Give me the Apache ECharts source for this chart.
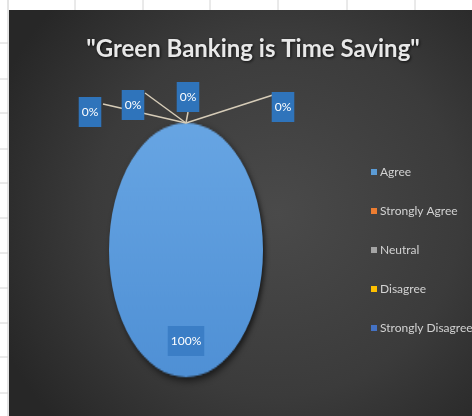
<!DOCTYPE html>
<html>
<head>
<meta charset="utf-8">
<script src="https://cdn.jsdelivr.net/npm/echarts@6/dist/echarts.min.js"></script>
<style>
  html, body { margin: 0; padding: 0; background: #fff; overflow: hidden; }
  #page { position: relative; width: 472px; height: 416px; }
  #back, #front { position: absolute; left: 0; top: 0; width: 472px; height: 416px; }
  /* the pie is drawn round and stretched vertically into an oval */
  #oval { position: absolute; left: 96px; top: 160px; width: 180px; height: 180px;
          transform: scaleY(1.65); transform-origin: 50% 50%; }
</style>
</head>
<body>
<div id="page">
  <div id="back"></div>
  <div id="oval"></div>
  <div id="front"></div>
</div>
<script>
// ---- data ----
const chartTitle = '"Green Banking is Time Saving"';
const categories = ['Agree', 'Strongly Agree', 'Neutral', 'Disagree', 'Strongly Disagree'];
const shares = [100, 0, 0, 0, 0];
const palette = ['#5b9bd5', '#ed7d31', '#a5a5a5', '#ffc000', '#4472c4'];

const face = "Lato, 'Liberation Sans', sans-serif";

// ---- background layer: worksheet edge, dark chart panel, title ----
const back = echarts.init(document.getElementById('back'), null, { renderer: 'canvas' });
const sheetLines = [];
[75, 143, 210, 278, 347, 415].forEach(x => sheetLines.push({
  type: 'line', shape: { x1: x, y1: 0, x2: x, y2: 10 }, style: { stroke: '#d4d4d4', lineWidth: 1 }
}));
[43, 79, 113, 149, 183, 218, 253, 288, 323, 357, 393].forEach(y => sheetLines.push({
  type: 'line', shape: { x1: 0, y1: y, x2: 8, y2: y }, style: { stroke: '#d4d4d4', lineWidth: 1 }
}));
back.setOption({
  backgroundColor: '#ffffff',
  graphic: [
    { type: 'rect', shape: { x: 0, y: 0, width: 472, height: 416 }, style: { fill: '#ffffff' } },
    ...sheetLines,
    { type: 'line', shape: { x1: 8, y1: 0, x2: 8, y2: 416 }, style: { stroke: '#c8c8c8', lineWidth: 1 } },
    {
      type: 'rect', shape: { x: 9, y: 10, width: 463, height: 406 },
      style: {
        fill: {
          type: 'radial', x: 0.58, y: 0.5, r: 0.75,
          colorStops: [
            { offset: 0, color: '#4a4a4a' },
            { offset: 0.6, color: '#3b3b3b' },
            { offset: 1, color: '#272727' }
          ]
        }
      }
    }
  ],
  title: {
    text: chartTitle,
    left: 248, top: 32, textAlign: 'center',
    textStyle: {
      color: '#e8e8e8', fontSize: 24, fontWeight: 'bold', fontFamily: face,
      textShadowColor: 'rgba(0,0,0,0.75)', textShadowBlur: 3, textShadowOffsetX: 1, textShadowOffsetY: 1
    }
  }
});

// ---- oval pie ----
const oval = echarts.init(document.getElementById('oval'), null, { renderer: 'canvas' });
oval.setOption({
  series: [{
    type: 'pie',
    center: ['50%', '50%'],
    radius: 77,
    startAngle: 90,
    silent: true,
    label: { show: false },
    labelLine: { show: false },
    itemStyle: {
      borderWidth: 0,
      shadowColor: 'rgba(0,0,0,0.65)', shadowBlur: 5, shadowOffsetX: 2, shadowOffsetY: 2
    },
    data: categories.map((name, i) => ({
      name, value: shares[i],
      itemStyle: {
        color: i === 0 ? {
          type: 'linear', x: 0, y: 0, x2: 0, y2: 1,
          colorStops: [{ offset: 0, color: '#67a5e3' }, { offset: 1, color: '#4f90d5' }]
        } : palette[i]
      }
    }))
  }]
});

// ---- front layer: data labels with leader lines, legend ----
const pieCenter = [186, 250];
const pieRadius = 127;
const apex = [pieCenter[0], pieCenter[1] - pieRadius];   // top of the oval, where slices start
// label centre and leader-line end, relative to the top of the oval
const labelSpots = [
  { c: [0, 218] },
  { c: [-96, -11], e: [-83, -19] },
  { c: [-53, -18], e: [-41, -30] },
  { c: [2, -26], e: [2, -11] },
  { c: [97, -16], e: [87, -28] }
];
const front = echarts.init(document.getElementById('front'), null, { renderer: 'canvas' });
front.setOption({
  legend: {
    orient: 'vertical',
    left: 366, top: 161,
    itemWidth: 6, itemHeight: 6, itemGap: 27,
    icon: 'rect',
    textStyle: { color: '#d2d2d2', fontSize: 12, fontFamily: face, padding: [0, 0, 0, -2] },
    data: categories.map((name, i) => ({ name, itemStyle: { color: palette[i] } }))
  },
  series: [{
    type: 'pie',
    center: pieCenter,
    radius: pieRadius,
    startAngle: 90,
    silent: true,
    itemStyle: { borderWidth: 0 },
    label: {
      show: true, position: 'outside',
      formatter: '{d}%',
      color: '#ffffff', fontSize: 12, fontFamily: face,
      backgroundColor: '#2f74bb', padding: [9, 3]
    },
    labelLine: { show: true, lineStyle: { color: '#d6ccb8', width: 1.5 } },
    labelLayout: function (p) {
      const spot = labelSpots[p.dataIndex];
      const out = { x: apex[0] + spot.c[0], y: apex[1] + spot.c[1], align: 'center', verticalAlign: 'middle' };
      if (spot.e) {
        const end = [apex[0] + spot.e[0], apex[1] + spot.e[1]];
        out.labelLinePoints = [apex, [(apex[0] + end[0]) / 2, (apex[1] + end[1]) / 2], end];
      }
      return out;
    },
    data: categories.map((name, i) => ({
      name, value: shares[i],
      // the visible oval is drawn by the layer underneath; this one carries labels only
      itemStyle: { color: 'rgba(0,0,0,0)' },
      label: i === 0 ? { backgroundColor: '#3b7ec6', padding: [9, 3] } : undefined,
      labelLine: i === 0 ? { show: false } : undefined
    }))
  }]
});
</script>
</body>
</html>
